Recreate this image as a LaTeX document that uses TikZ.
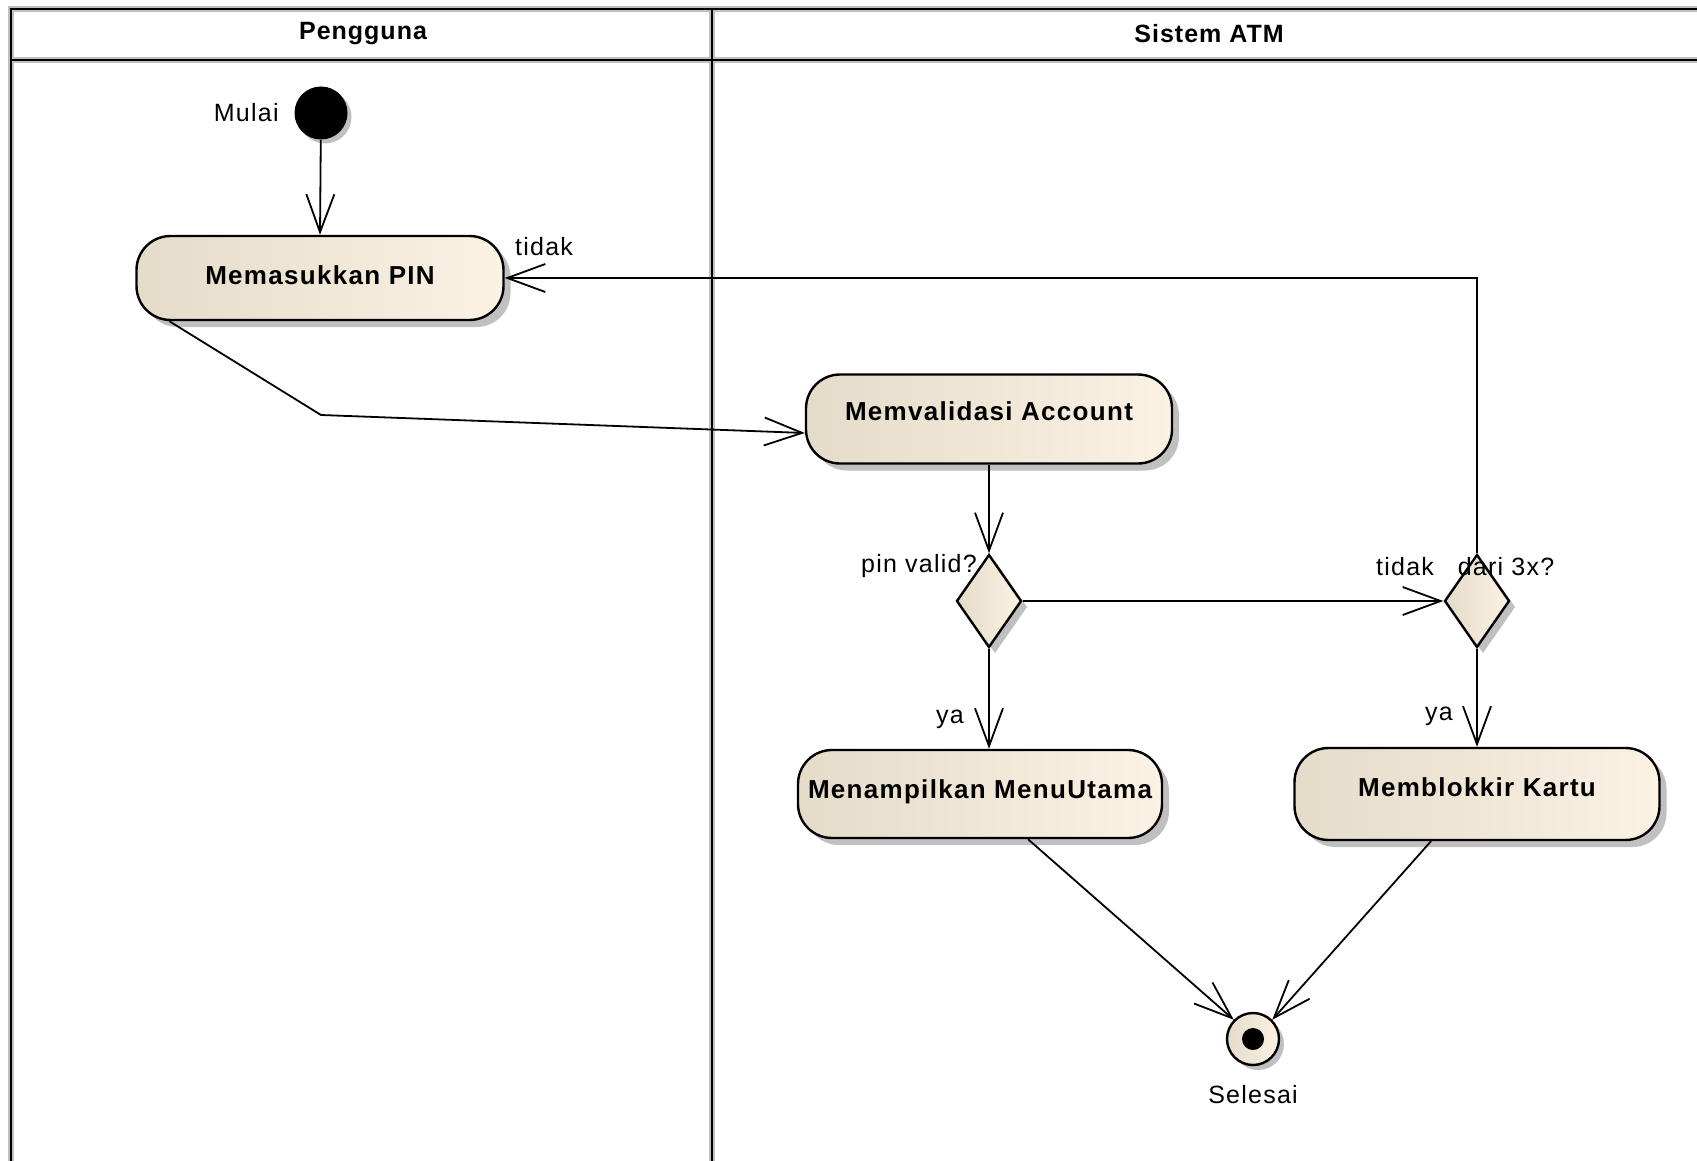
\documentclass[tikz,border=0pt]{standalone}
\usepackage{fontspec}
\setmainfont{Liberation Sans}
\usetikzlibrary{arrows.meta,shapes.geometric,shadows,calc}
\definecolor{begL}{RGB}{229,219,201}
\definecolor{begR}{RGB}{251,242,228}
\definecolor{shd}{RGB}{192,192,192}
\begin{document}
\begin{tikzpicture}[x=0.5pt,y=-0.5pt,
  lbl/.style={font={\fontsize{12.5}{14}\selectfont\addfontfeature{LetterSpace=5}}, inner sep=0pt},
  hdr/.style={font={\fontsize{12.5}{14}\selectfont\bfseries\addfontfeature{LetterSpace=4}}, inner sep=0pt},
  act/.style={draw=black, line width=1.2pt, rounded corners=17pt, left color=begL, right color=begR,
    drop shadow={shadow xshift=3.5pt, shadow yshift=-3.5pt, fill=shd, opacity=1},
    font={\fontsize{13}{15}\selectfont\bfseries\addfontfeature{LetterSpace=5}}, inner sep=0pt},
  dec/.style={diamond, draw=black, line width=1.2pt, left color=begL, right color=begR,
    minimum width=32.5pt, minimum height=46.5pt, inner sep=0pt,
    drop shadow={shadow xshift=3pt, shadow yshift=-3pt, fill=shd, opacity=1}},
  arr/.style={draw=black, line width=0.9pt, -{Straight Barb[length=19pt,width=14pt,line width=0.9pt]}},
  frameback/.style={draw=shd, line width=2.6pt},
  framefront/.style={draw=black, line width=1.4pt}
]
\useasboundingbox (0,0) rectangle (1697,1161);
\fill[white] (0,0) rectangle (1697,1161);

% swimlane frame
\foreach \s in {frameback,framefront}{
  \draw[\s] (11,1161) -- (11,9) -- (1697,9);
  \draw[\s] (11,60) -- (1697,60);
  \draw[\s] (712,9) -- (712,1161);
}
\node[hdr] (h1) at (363,34) {Pengguna};
\node[hdr] (h2) at (1209,34) {Sistem ATM};

% nodes
\node[circle, fill=black, minimum size=26.5pt, inner sep=0pt,
  drop shadow={shadow xshift=2pt, shadow yshift=-2pt, fill=shd, opacity=1}] (start) at (321,113) {};
\node[lbl, anchor=east] (mulai) at (279,113) {Mulai};

\node[act, minimum width=183.5pt, minimum height=42pt, text height=9.5pt, text depth=3.2pt] (mem) at (320,278) {Memasukkan PIN};
\node[act, minimum width=183pt, minimum height=44.5pt, text height=9.5pt, text depth=8.2pt] (val) at (989,419) {Memvalidasi Account};
\node[dec] (d1) at (989,601) {};
\node[dec] (d2) at (1477,601) {};
\node[act, minimum width=182pt, minimum height=44pt, text height=9.5pt, text depth=5.2pt] (menu) at (980,794) {Menampilkan MenuUtama};
\node[act, minimum width=182.5pt, minimum height=46pt, text height=9.5pt, text depth=7.2pt] (blok) at (1477,794) {Memblokkir Kartu};

\node[circle, draw=black, line width=1.2pt, left color=begL, right color=begR, minimum size=26pt, inner sep=0pt,
  drop shadow={shadow xshift=2.5pt, shadow yshift=-2.5pt, fill=shd, opacity=1}] (fin) at (1253,1039) {};
\node[circle, fill=black, minimum size=11pt, inner sep=0pt] (findot) at (fin) {};
\node[lbl] (selesai) at (1253,1095) {Selesai};

% labels
\node[lbl] (ltidak1) at (544,247) {tidak};
\node[lbl] (lpin) at (919,566) {pin valid?};
\node[lbl] (ltidak2) at (1405,567) {tidak};
\node[lbl] (ldari) at (1506,567) {dari 3x?};
\node[lbl] (lya1) at (950,719) {ya};
\node[lbl] (lya2) at (1439,716) {ya};

% connectors
\draw[arr] (start) -- (mem.north);
\draw[arr] (mem.south west) ++(34,0) -- (321,415) -- ($(val.west)+(0,14)$);
\draw[arr] (val.south) -- (d1.north);
\draw[arr] (d1.east) -- (d2.west);
\draw[arr] (d2.north) |- (mem.east);
\draw[arr] (d1.south) -- (d1.south |- menu.north);
\draw[arr] (d2.south) -- (d2.south |- blok.north);
\draw[arr] ($(menu.south)+(48,0)$) -- (fin.135);
\draw[arr] ($(blok.south)+(-46,0)$) -- (fin.45);
\end{tikzpicture}
\end{document}
